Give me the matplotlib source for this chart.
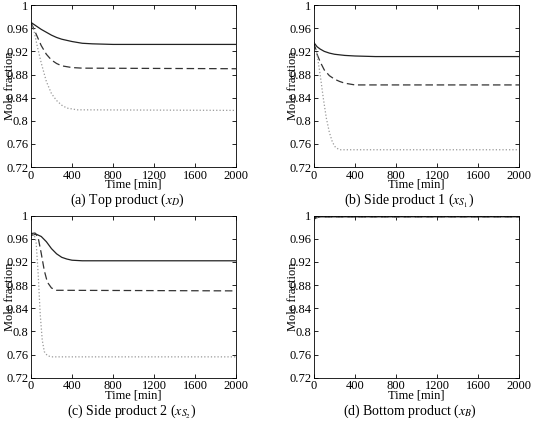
import matplotlib
matplotlib.use("Agg")
import matplotlib.pyplot as plt

plt.rcParams['font.family'] = ['Liberation Serif', 'DejaVu Serif']
plt.rcParams['mathtext.fontset'] = 'stix'

# (a) top product x_D
ta_solid = [0, 50, 100, 150, 200, 250, 300, 400, 500, 600, 800, 2000]
a_solid = [0.970, 0.964, 0.958, 0.953, 0.948, 0.944, 0.941, 0.937, 0.934, 0.933, 0.932, 0.932]
ta_dash = [0, 50, 100, 150, 200, 250, 300, 400, 500, 2000]
a_dash = [0.970, 0.950, 0.930, 0.915, 0.905, 0.899, 0.895, 0.892, 0.891, 0.890]
ta_dot = [0, 30, 60, 100, 150, 200, 250, 300, 350, 450, 2000]
a_dot = [0.970, 0.955, 0.930, 0.900, 0.868, 0.847, 0.835, 0.827, 0.822, 0.819, 0.818]

# (b) side product 1 x_S1
tb_solid = [0, 30, 60, 100, 150, 200, 300, 400, 600, 800, 2000]
b_solid = [0.935, 0.928, 0.924, 0.920, 0.917, 0.915, 0.913, 0.912, 0.911, 0.911, 0.911]
tb_dash = [0, 30, 60, 100, 150, 200, 250, 300, 400, 2000]
b_dash = [0.935, 0.915, 0.902, 0.888, 0.878, 0.872, 0.868, 0.865, 0.862, 0.862]
tb_dot = [0, 30, 60, 90, 120, 150, 180, 210, 250, 2000]
b_dot = [0.935, 0.915, 0.880, 0.840, 0.805, 0.780, 0.763, 0.754, 0.750, 0.750]

# (c) side product 2 x_S2
tc_solid = [0, 50, 100, 150, 200, 250, 300, 350, 400, 500, 2000]
c_solid = [0.966, 0.968, 0.964, 0.955, 0.943, 0.934, 0.928, 0.925, 0.923, 0.922, 0.922]
tc_dash = [0, 40, 70, 100, 130, 160, 200, 250, 300, 2000]
c_dash = [0.969, 0.970, 0.962, 0.935, 0.905, 0.885, 0.875, 0.871, 0.871, 0.870]
tc_dot = [0, 30, 50, 70, 90, 110, 130, 160, 200, 2000]
c_dot = [0.962, 0.968, 0.955, 0.900, 0.830, 0.785, 0.765, 0.758, 0.756, 0.756]

# (d) bottom product x_B
td = [0, 20, 50, 100, 200, 2000]
d_solid = [0.995, 0.997, 0.998, 0.998, 0.998, 0.998]
d_dash = [0.994, 0.996, 0.998, 0.998, 0.998, 0.998]
d_dot = [0.993, 0.996, 0.997, 0.998, 0.998, 0.998]

captions = ["(a) Top product ($x_D$)", "(b) Side product 1 ($x_{S_1}$)",
            "(c) Side product 2 ($x_{S_2}$)", "(d) Bottom product ($x_B$)"]
yticks = [0.72, 0.76, 0.8, 0.84, 0.88, 0.92, 0.96, 1]
ylabels = ["0.72", "0.76", "0.8", "0.84", "0.88", "0.92", "0.96", "1"]
xticks = [0, 400, 800, 1200, 1600, 2000]

panels = [
    (ta_solid, a_solid, ta_dash, a_dash, ta_dot, a_dot),
    (tb_solid, b_solid, tb_dash, b_dash, tb_dot, b_dot),
    (tc_solid, c_solid, tc_dash, c_dash, tc_dot, c_dot),
    (td, d_solid, td, d_dash, td, d_dot),
]

fig = plt.figure(figsize=(5.34, 4.22), dpi=100)
pos = [(0.058, 0.604), (0.588, 0.604), (0.058, 0.105), (0.588, 0.105)]
cap_pos = [(0.238, 0.526), (0.766, 0.526), (0.247, 0.026), (0.767, 0.026)]

for i, p in enumerate(panels):
    ax = fig.add_axes([pos[i][0], pos[i][1], 0.384, 0.384])
    ts, ys, tdh, ydh, tdt, ydt = p
    ax.plot(ts, ys, '-', color='#222222', lw=0.9)
    ax.plot(tdh, ydh, '--', color='#333333', lw=0.9, dashes=(6, 3))
    ax.plot(tdt, ydt, ':', color='#999999', lw=0.9)
    ax.set_xlim(0, 2000)
    ax.set_ylim(0.72, 1)
    ax.set_xticks(xticks)
    ax.set_yticks(yticks)
    ax.set_yticklabels(ylabels)
    ax.tick_params(direction='in', top=True, right=True, labelsize=9, length=3, pad=2, width=0.6)
    for s in ax.spines.values():
        s.set_linewidth(0.6)
    ax.set_xlabel("Time [min]", fontsize=9)
    ax.xaxis.set_label_coords(0.5, -0.07)
    ax.set_ylabel("Mole fraction", fontsize=9)
    ax.yaxis.set_label_coords(-0.075, 0.5)
    fig.text(cap_pos[i][0], cap_pos[i][1], captions[i], ha='center', va='center', fontsize=10)

fig.savefig("out.png", dpi=100)
